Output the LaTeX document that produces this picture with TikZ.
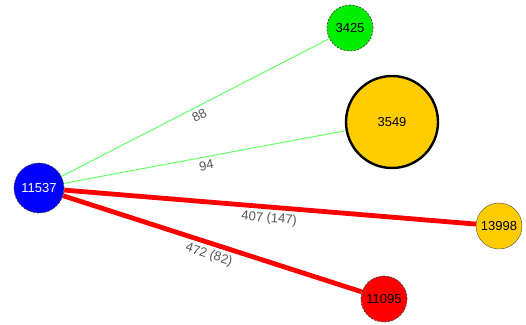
\documentclass[tikz,border=0pt]{standalone}
\usepackage{fontspec}
\setmainfont{Liberation Sans}
\usepackage{tikz}
\usetikzlibrary{positioning}
\definecolor{hubblue}{HTML}{0000FF}
\definecolor{nodegreen}{HTML}{00EE00}
\definecolor{nodegold}{HTML}{FFCC00}
\definecolor{nodered}{HTML}{FF0000}
\definecolor{linkgreen}{HTML}{66FF66}
\definecolor{linkred}{HTML}{FF0000}
\definecolor{labelgray}{HTML}{555555}

\begin{document}
\begin{tikzpicture}[x=1pt, y=1pt,
    vertex/.style={circle, inner sep=0pt, font=\fontsize{13}{15}\selectfont},
    dashedvertex/.style={vertex, draw=black!75, dash pattern=on 2pt off 1.5pt, line width=0.7pt},
    weak/.style={draw=linkgreen, line width=1pt},
    strong/.style={draw=linkred, line width=4.8pt},
    weight/.style={midway, sloped, below, text=labelgray, font=\fontsize{13}{15}\selectfont}]
    % Frame
    \useasboundingbox (0,0) rectangle (526,324);

    % Vertices
    \node[dashedvertex, fill=hubblue, text=white, minimum size=50pt] (n11537) at (39,136) {11537};
    \node[dashedvertex, fill=nodegreen, minimum size=46pt] (n3425) at (350,296) {3425};
    \node[vertex, fill=nodegold, draw=black, line width=2.4pt, minimum size=92pt] (n3549) at (392,202) {3549};
    \node[vertex, fill=nodegold, draw=black!70, thin, minimum size=46pt] (n13998) at (499,98) {13998};
    \node[dashedvertex, fill=nodered, minimum size=46pt] (n11095) at (384,25) {11095};

    % Links
    \draw[weak] (n11537) -- (n3425) node[weight] {88};
    \draw[weak] (n11537) -- (n3549) node[weight] {94};
    \draw[strong] (n11537) -- (n13998) node[weight] {407 (147)};
    \draw[strong] (n11537) -- (n11095) node[weight] {472 (82)};
\end{tikzpicture}
\end{document}
